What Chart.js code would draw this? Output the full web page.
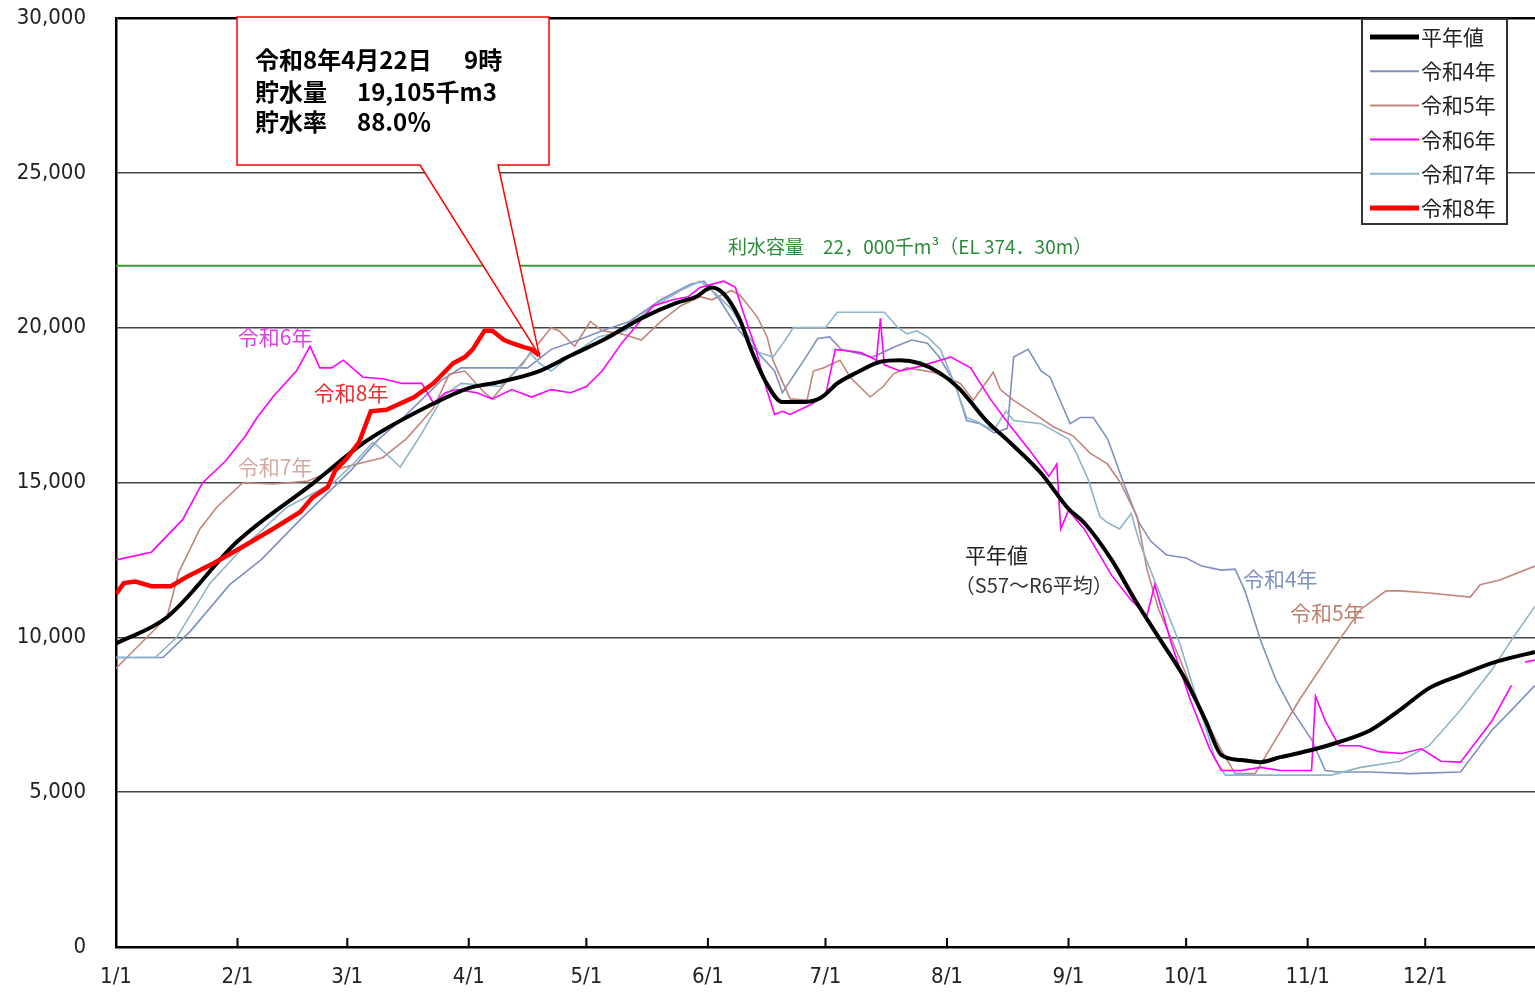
<!DOCTYPE html>
<html lang="ja">
<head>
<meta charset="utf-8">
<script src="https://cdn.jsdelivr.net/npm/chart.js@4.4.1/dist/chart.umd.min.js"></script>
<style>
  html, body { margin: 0; padding: 0; background: #fff; }
  #wrap { width: 1535px; height: 992px; }
</style>
</head>
<body>
<div id="wrap"><canvas id="chart" width="1535" height="992"></canvas></div>
<script>
// x = days since 1/1, y = 貯水量 (千m3)
const monthStarts = [0, 31, 59, 90, 120, 151, 181, 212, 243, 273, 304, 334];
const monthLabels = ['1/1', '2/1', '3/1', '4/1', '5/1', '6/1', '7/1', '8/1', '9/1', '10/1', '11/1', '12/1'];
const capacity = 22000;

const heinenDays = [0, 13, 31, 50, 64, 81, 90, 98, 108, 116, 125, 134, 143, 148, 152, 155, 159, 162, 166, 170, 176, 180, 184, 189, 195, 200, 205, 210, 215, 222, 228, 236, 243, 247, 254, 260, 266, 273, 278, 282, 287, 292, 297, 305, 312, 320, 328, 335, 343, 351, 362];
const heinenVals = [9800, 10650, 13100, 14950, 16350, 17550, 18050, 18250, 18600, 19100, 19650, 20300, 20800, 21000, 21300, 21100, 20300, 19300, 18200, 17600, 17600, 17750, 18200, 18550, 18900, 18950, 18850, 18550, 18050, 17000, 16300, 15300, 14150, 13700, 12500, 11200, 10000, 8600, 7300, 6200, 6040, 5970, 6130, 6360, 6620, 7000, 7700, 8360, 8780, 9170, 9530];

const r4Days = [0, 12, 19, 29, 37, 47, 60, 67, 72.5, 83, 88, 93, 100, 105, 111, 118, 124, 131, 139, 146.5, 150, 154, 159, 163, 168, 170, 176, 179, 182, 185, 193, 199, 203, 207, 210, 214, 217, 220.5, 224, 227.4, 229, 232.7, 236, 238.3, 243.4, 246, 249.3, 253, 257, 261, 264, 268, 273, 277, 282, 285.5, 288, 292, 296, 300, 305, 308.5, 312, 320, 330, 343, 351, 356, 362];
const r4Vals = [9350, 9350, 10200, 11700, 12500, 13800, 15400, 16400, 17000, 18300, 18700, 18700, 18700, 18700, 19300, 19600, 19900, 20200, 20900, 21400, 21500, 20900, 19900, 19300, 18600, 17900, 19050, 19650, 19700, 19300, 19050, 19400, 19600, 19500, 19050, 18200, 17000, 16900, 16600, 16750, 19050, 19300, 18600, 18400, 16900, 17100, 17100, 16400, 15000, 13700, 13100, 12660, 12560, 12300, 12170, 12200, 11500, 9900, 8600, 7650, 6700, 5700, 5650, 5650, 5600, 5650, 7000, 7650, 8450];

const r5Days = [0, 13, 16, 21.4, 25.7, 32.4, 40, 49, 55.5, 61.5, 68, 74, 81, 85, 89, 94, 96, 100.5, 105, 111, 113, 117, 121, 124, 129, 134, 139, 144, 149, 152, 157, 159.2, 163.6, 166.1, 167.6, 170.2, 172, 176.3, 177.9, 180.4, 184.7, 187.3, 192.4, 195.7, 198.3, 201.8, 208.5, 215.4, 218.7, 223.8, 225.6, 228.9, 234, 239.1, 244.2, 248.5, 252.9, 256.2, 260.5, 263, 266, 271.5, 276.6, 282, 285.5, 290.6, 292, 302, 312, 317.5, 324, 327.6, 335, 345.5, 348, 353, 362];
const r5Vals = [9000, 10650, 12100, 13500, 14200, 15000, 14950, 15050, 15400, 15600, 15800, 16400, 17400, 18500, 18600, 17900, 17700, 18400, 19050, 20000, 19900, 19400, 20200, 19900, 19800, 19600, 20200, 20700, 21000, 20900, 21200, 21050, 20350, 19700, 18950, 18200, 17700, 17660, 18600, 18700, 18950, 18400, 17760, 18100, 18500, 18700, 18560, 18200, 17660, 18560, 18000, 17660, 17240, 16800, 16500, 15950, 15600, 15000, 13900, 12200, 10900, 9270, 7650, 6360, 5600, 5600, 5900, 8000, 9900, 10900, 11500, 11500, 11430, 11300, 11700, 11850, 12300];

const r6Days = [0, 9, 17, 22, 28, 33, 36, 40, 46, 49.5, 52, 55, 58, 63, 68, 73, 78, 81, 84, 87, 92, 96, 101, 106, 111, 116, 120, 124, 129, 133, 137, 142, 146, 149, 155, 158, 160, 163, 166, 168, 170, 172, 177, 181, 183.5, 190, 194, 195, 196, 200, 205, 213, 218, 223, 228, 233, 238, 240, 241, 243, 247, 254, 259, 263, 265, 269, 274, 279, 282, 287, 292, 297, 305, 306, 308.5, 312, 317, 322.5, 328, 333, 338, 343, 351, 356, 357.5, 359.5, 362];
const r6Vals = [12500, 12750, 13800, 14980, 15700, 16500, 17100, 17760, 18600, 19400, 18700, 18700, 18950, 18400, 18350, 18200, 18200, 17560, 17900, 18000, 17900, 17700, 18000, 17760, 18000, 17900, 18100, 18600, 19500, 20100, 20700, 20900, 21000, 21300, 21500, 21300, 20500, 19400, 18000, 17200, 17300, 17200, 17500, 17800, 19300, 19200, 18950, 20300, 18800, 18600, 18750, 19050, 18700, 17700, 16850, 16050, 15200, 15600, 13500, 14100, 13500, 12000, 11200, 10700, 11700, 9900, 8000, 6400, 5700, 5700, 5800, 5700, 5700, 8100, 7300, 6500, 6500, 6300, 6250, 6400, 6000, 5970, 7300, 8450, null, 9200, 9270];

const r7Days = [0, 10, 15.5, 24, 32.4, 43.6, 55.5, 60.5, 65.6, 70, 72.5, 77.6, 83.5, 88, 98, 104, 105.6, 108, 111, 116, 123, 130, 136, 144, 149, 153, 157, 160.5, 164, 167.6, 170.2, 172.8, 181, 184, 187, 196, 199.5, 201.8, 204.3, 207, 210.3, 213.6, 217, 219, 222, 224, 227, 229, 236, 243, 245, 248, 251, 253, 256, 259, 261, 266, 271.5, 276.6, 280.5, 283, 310, 317.5, 327.6, 335, 343, 351, 357, 362];
const r7Vals = [9350, 9350, 10000, 11750, 12900, 14200, 15000, 15600, 16300, 15800, 15500, 16500, 17800, 18200, 18100, 18850, 19200, 18850, 18600, 19100, 19700, 19900, 20600, 21200, 21500, 21100, 20600, 19900, 19200, 19050, 19500, 20000, 20000, 20500, 20500, 20500, 20000, 19800, 19900, 19700, 19300, 18300, 17100, 17000, 16800, 16700, 17300, 17000, 16900, 16400, 15950, 15100, 13900, 13700, 13500, 14000, 13100, 11500, 9750, 7650, 6040, 5550, 5550, 5800, 6000, 6500, 7650, 8950, 10100, 11000];

const r8Days = [0, 2, 5, 9, 14, 18, 25, 32, 40, 47, 50, 54, 56, 59, 62, 65, 69, 76, 81, 86, 89, 91, 94, 96, 99, 101, 104, 106, 108];
const r8Vals = [11400, 11750, 11800, 11650, 11650, 11950, 12400, 12900, 13500, 14050, 14500, 14850, 15400, 15800, 16300, 17300, 17350, 17750, 18200, 18850, 19050, 19300, 19900, 19900, 19600, 19500, 19370, 19300, 19105];

const pts = (d, v) => d.map((x, i) => ({ x, y: v[i] }));
const jp = "'Noto Sans CJK JP', sans-serif";
const narrow = "'Liberation Sans Narrow', 'DejaVu Sans Condensed', 'Noto Sans', sans-serif";

// in-chart labels, placed in data coordinates
const notes = [
  { text: '令和6年', x: 40.6, y: 19700, color: '#e040e8', size: 21, align: 'center' },
  { text: '令和8年', x: 60, y: 17900, color: '#e83030', size: 21, align: 'center' },
  { text: '令和7年', x: 40.6, y: 15500, color: '#d4aaa6', size: 21, align: 'center' },
  { text: '平年値', x: 216.6, y: 12660, color: '#222', size: 21, align: 'left' },
  { text: '（S57～R6平均）', x: 214, y: 11690, color: '#333', size: 20, align: 'left' },
  { text: '令和4年', x: 297, y: 11880, color: '#7f93c0', size: 21, align: 'center' },
  { text: '令和5年', x: 309, y: 10780, color: '#c08070', size: 21, align: 'center' },
  { text: '利水容量　22，000千m³（EL 374．30m）', x: 202.6, y: 22600, color: '#2e8b3e', size: 19, align: 'center' }
];
const legendCount = 6;

const legendPlugin = {
  id: 'boxLegend',
  afterDatasetsDraw(chart) {
    const ctx = chart.ctx;
    const x0 = 1362, y0 = 19, w = 145, h = 205;
    ctx.save();
    ctx.fillStyle = '#fff';
    ctx.fillRect(x0, y0, w, h);
    ctx.strokeStyle = '#333';
    ctx.lineWidth = 2;
    ctx.strokeRect(x0, y0, w, h);
    ctx.font = '21px ' + jp;
    ctx.textBaseline = 'middle';
    chart.data.datasets.slice(0, legendCount).forEach((ds, i) => {
      const y = 37 + i * 34.2;
      ctx.strokeStyle = ds.borderColor;
      ctx.lineWidth = ds.borderWidth > 3 ? 5 : 2;
      ctx.beginPath();
      ctx.moveTo(1370, y);
      ctx.lineTo(1419, y);
      ctx.stroke();
      ctx.fillStyle = '#222';
      ctx.fillText(ds.label, 1421, y);
    });
    ctx.restore();
  }
};

const notesPlugin = {
  id: 'notes',
  afterDatasetsDraw(chart) {
    const { ctx, scales: { x, y } } = chart;
    ctx.save();
    ctx.textBaseline = 'middle';
    notes.forEach(n => {
      ctx.font = n.size + 'px ' + jp;
      ctx.fillStyle = n.color;
      ctx.textAlign = n.align;
      ctx.fillText(n.text, x.getPixelForValue(n.x), y.getPixelForValue(n.y));
    });

    // inward month ticks on the x axis
    ctx.strokeStyle = '#000';
    ctx.lineWidth = 2;
    const bottom = chart.chartArea.bottom;
    monthStarts.slice(1).forEach(v => {
      const px = x.getPixelForValue(v);
      ctx.beginPath();
      ctx.moveTo(px, bottom - 9);
      ctx.lineTo(px, bottom);
      ctx.stroke();
    });

    // callout pointing at the latest 令和8年 value
    const idx = chart.data.datasets.findIndex(d => d.label === '令和8年');
    const meta = chart.getDatasetMeta(idx);
    const tip = meta.data[meta.data.length - 1];
    ctx.beginPath();
    ctx.moveTo(237, 17);
    ctx.lineTo(549, 17);
    ctx.lineTo(549, 165);
    ctx.lineTo(498, 165);
    ctx.lineTo(tip.x, tip.y);
    ctx.lineTo(420, 165);
    ctx.lineTo(237, 165);
    ctx.closePath();
    ctx.fillStyle = '#fff';
    ctx.fill();
    ctx.strokeStyle = '#f00';
    ctx.lineWidth = 1.5;
    ctx.stroke();

    ctx.fillStyle = '#000';
    ctx.textAlign = 'left';
    ctx.font = 'bold 24px ' + jp;
    ctx.fillText('令和8年4月22日', 255, 60);
    ctx.fillText('9時', 464, 60);
    ctx.fillText('貯水量', 255, 92);
    ctx.fillText('19,105千m3', 357, 92);
    ctx.fillText('貯水率', 255, 122);
    ctx.fillText('88.0％', 357, 122);
    ctx.restore();
  }
};

const thin = 1.6;
new Chart(document.getElementById('chart'), {
  type: 'line',
  data: {
    datasets: [
      { label: '平年値', data: pts(heinenDays, heinenVals), borderColor: '#000', borderWidth: 4, tension: 0.4, cubicInterpolationMode: 'monotone', order: 1 },
      { label: '令和4年', data: pts(r4Days, r4Vals), borderColor: '#7f90c0', borderWidth: thin, order: 5 },
      { label: '令和5年', data: pts(r5Days, r5Vals), borderColor: '#c0857c', borderWidth: thin, order: 4 },
      { label: '令和6年', data: pts(r6Days, r6Vals), borderColor: '#ff00ff', borderWidth: thin, order: 2 },
      { label: '令和7年', data: pts(r7Days, r7Vals), borderColor: '#8db4c8', borderWidth: thin, order: 3 },
      { label: '令和8年', data: pts(r8Days, r8Vals), borderColor: '#ff0000', borderWidth: 4.5, order: 0 },
      { label: '利水容量', data: [{ x: 0, y: capacity }, { x: 362, y: capacity }], borderColor: '#3a9a3a', borderWidth: 1.8, order: 6 }
    ].map(d => Object.assign({ pointRadius: 0, fill: false, spanGaps: false }, d))
  },
  options: {
    responsive: false,
    animation: false,
    devicePixelRatio: 1,
    layout: { padding: { top: 18, right: 0, left: 0, bottom: 0 } },
    plugins: { legend: { display: false }, tooltip: { enabled: false } },
    scales: {
      x: {
        type: 'linear',
        min: 0,
        max: 362,
        afterBuildTicks: s => { s.ticks = monthStarts.map(v => ({ value: v })); },
        afterFit: s => { s.height = 45; s.paddingLeft = 0; s.paddingRight = 0; },
        ticks: {
          autoSkip: false,
          maxRotation: 0,
          padding: 17,
          color: '#222',
          font: { family: narrow, size: 22 },
          callback: (v, i) => monthLabels[i]
        },
        grid: { drawOnChartArea: false, drawTicks: false },
        border: { color: '#000', width: 2.5 }
      },
      y: {
        min: 0,
        max: 30000,
        afterFit: s => { s.width = 116; s.paddingTop = 0; s.paddingBottom = 0; },
        ticks: {
          stepSize: 5000,
          padding: 30,
          color: '#222',
          font: { family: narrow, size: 22 },
          callback: v => v.toLocaleString('en-US')
        },
        grid: {
          drawTicks: false,
          color: c => c.tick && c.tick.value === 30000 ? '#000' : '#444',
          lineWidth: c => c.tick && c.tick.value === 30000 ? 2.5 : 1.5
        },
        border: { color: '#000', width: 2.5 }
      }
    }
  },
  plugins: [notesPlugin, legendPlugin]
});
</script>
</body>
</html>
